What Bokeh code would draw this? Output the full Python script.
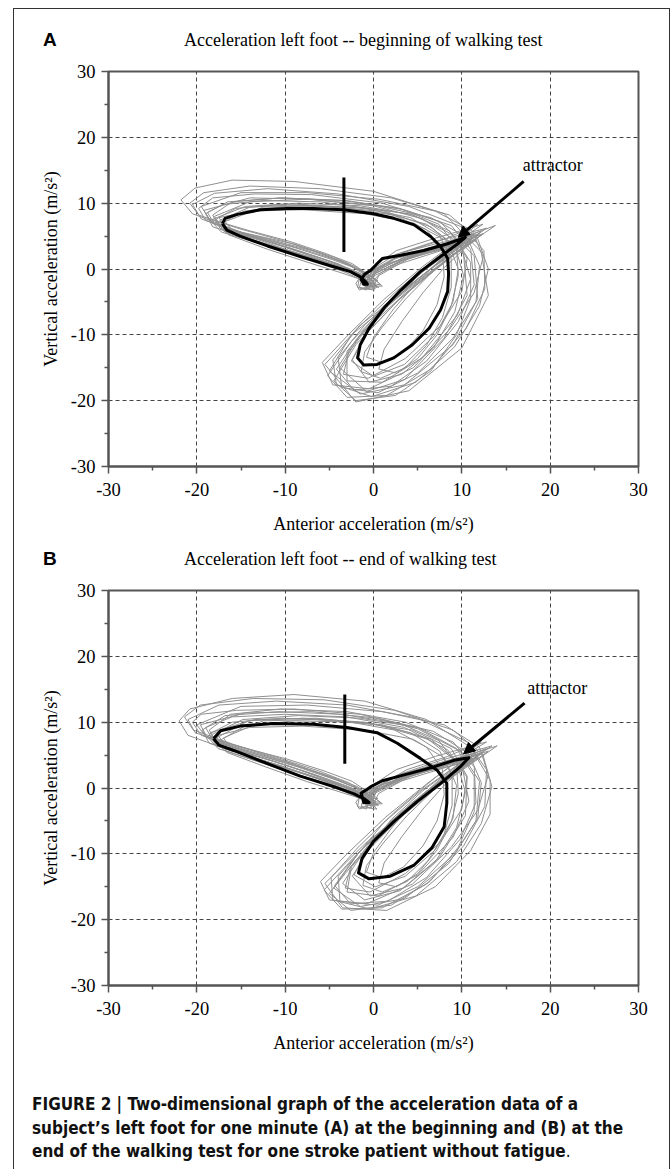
from bokeh.plotting import figure
from bokeh.layouts import column
from bokeh.models import Div, Label, Arrow, NormalHead, FixedTicker
from bokeh.embed import file_html
from bokeh.resources import INLINE

# ---------------- data ----------------
major_ticks = [-30, -20, -10, 0, 10, 20, 30]
minor_ticks = [-25, -15, -5, 5, 15, 25]
grid_ticks = [-20, -10, 0, 10, 20]
tick_labels = ["-30", "-20", "-10", "0", "10", "20", "30"]

titles = ["Acceleration left foot -- beginning of walking test",
          "Acceleration left foot -- end of walking test"]
letters = ["A", "B"]
x_title = "Anterior acceleration (m/s\u00b2)"
y_title = "Vertical acceleration (m/s\u00b2)"
annot_text = "attractor"

# mean (black) trajectory, panel A
mean_A = [(-17.1, 6.9), (-16.6, 5.9), (-15.1, 5.0), (-12.0, 3.5), (-8.3, 1.9), (-4.9, 0.5),
          (-2.6, -0.4), (-1.5, -1.2), (-0.9, -1.9), (-0.7, -2.3), (-1.1, -2.3), (-1.4, -1.6),
          (-1.0, -0.8), (-0.3, -0.2), (0.4, 0.8), (1.0, 1.6), (3.1, 2.1), (5.7, 2.8), (8.3, 3.8),
          (10.4, 4.8), (9.5, 3.8), (7.6, 1.9), (5.3, -0.4), (3.1, -3.2), (1.2, -5.9), (-0.5, -9.0),
          (-1.5, -11.5), (-1.8, -13.5), (-1.1, -14.6), (0.4, -14.5), (2.3, -13.5), (4.4, -11.5),
          (6.3, -9.0), (7.6, -6.2), (8.4, -3.4), (8.5, -0.7), (8.4, 1.6), (7.6, 3.4), (6.5, 4.9),
          (4.6, 6.7), (2.3, 7.7), (0.0, 8.4), (-3.4, 9.0), (-6.8, 9.2), (-9.8, 9.2), (-12.8, 9.0),
          (-15.4, 8.3), (-16.8, 7.7), (-17.1, 6.9)]

# mean (black) trajectory, panel B
mean_B = [(-18.1, 7.5), (-17.5, 6.5), (-15.8, 5.7), (-12.0, 3.7), (-8.3, 1.8), (-4.5, 0.2),
          (-2.2, -0.9), (-1.1, -1.6), (-0.5, -2.2), (-1.1, -2.2), (-1.4, -0.8), (-0.3, 0.2),
          (1.0, 1.1), (3.8, 2.1), (6.8, 3.2), (9.1, 4.2), (10.8, 4.6), (9.8, 3.2), (7.6, 0.7),
          (4.9, -2.1), (2.3, -5.1), (0.0, -8.1), (-1.3, -10.7), (-1.7, -12.9), (-0.5, -13.8),
          (1.9, -13.4), (4.6, -11.7), (6.6, -9.1), (8.0, -5.9), (8.3, -2.3), (8.3, 0.7),
          (7.2, 2.7), (5.3, 4.5), (2.7, 6.8), (0.4, 8.4), (-3.0, 9.2), (-6.8, 9.7), (-11.3, 9.8),
          (-15.1, 9.4), (-17.3, 8.7), (-18.1, 7.5)]

# individual gait cycles (grey), panel A
gray_A = [
    [(-21.8, 10.5), (-20.5, 8.4), (-15, 5.6), (-9, 3.8), (-4.5, 1.8), (-1.8, 0.2), (-0.2, -1.6), (0.4, -2.8),
     (-0.6, -2.6), (0.8, -0.6), (4, 1.8), (8.5, 4), (13.8, 6.6), (10.5, 3.6), (5, -1.8), (-1.5, -8.5),
     (-5.5, -14.5), (-2, -20.2), (4, -18.5), (10, -12), (13, -4), (12.2, 2.6), (8, 8.4), (0, 11.8),
     (-9, 13.3), (-16, 13.5), (-20.2, 12.3), (-21.8, 10.5)],
    [(-19.8, 9.2), (-19, 7.4), (-14, 5.0), (-8.5, 2.8), (-4, 0.8), (-1.5, -0.8), (-0.4, -2.2), (0.1, -3.2),
     (-1, -3.0), (-0.6, -1.2), (3, 1.2), (7.5, 3.2), (12.5, 5.4), (9.5, 2.6), (4, -3), (-2.5, -10),
     (-5, -15.5), (-1.5, -19), (3.5, -17.6), (9, -11.5), (11.8, -4.5), (11.4, 2), (7.5, 7.2), (1, 10),
     (-7, 11.3), (-13.5, 11.4), (-18.2, 10.8), (-19.8, 9.2)],
    [(-18.8, 8.6), (-18, 6.8), (-13, 4.6), (-8, 2.4), (-4, 0.4), (-1.8, -1.0), (-0.8, -2.0), (-0.4, -3.0),
     (-1.6, -2.8), (-1.2, -1.0), (2, 1.4), (6.5, 3.0), (11.2, 4.6), (8.5, 1.6), (3.5, -3.8), (-1.5, -10),
     (-3.8, -15), (-0.8, -18.6), (3.5, -16.8), (8, -10.5), (10.6, -4), (10.2, 2.2), (6.5, 6.4), (1, 8.9),
     (-6, 10.2), (-12.5, 10.4), (-17, 9.8), (-18.8, 8.6)],
    [(-18, 8.0), (-17.4, 6.2), (-12.5, 4.2), (-7.5, 1.8), (-3.5, 0), (-1.4, -1.4), (-0.2, -2.4), (0.6, -2.8),
     (-0.5, -2.0), (0.4, -0.2), (3.5, 1.8), (8, 3.6), (12, 5.4), (9, 2.8), (5, -1.5), (0.5, -7),
     (-3, -12.5), (-3, -17), (1, -17.2), (5.5, -13.5), (9.5, -7), (11, -1.5), (9.8, 3.8), (5.6, 7.6),
     (0, 9.6), (-7.5, 10.6), (-14, 10.2), (-18, 8.0)],
    [(-17.5, 7.8), (-16.5, 6.0), (-12, 4.6), (-7, 2.8), (-3.2, 1.0), (-1.0, -0.6), (0.2, -1.6), (0.8, -2.4),
     (-0.2, -2.2), (0.2, -0.6), (3, 2.4), (7, 3.8), (10.5, 4.8), (8.6, 2.8), (5.5, -0.5), (2, -5),
     (-1, -10), (-2.5, -14), (0, -16.3), (3.5, -14.5), (7, -10), (9, -5), (9.6, 0), (8.4, 4.2), (4.5, 7.0),
     (-1, 8.4), (-8, 9.0), (-14, 8.8), (-17.5, 7.8)],
    [(-20.5, 9.8), (-19.5, 7.6), (-14.5, 5.2), (-9.5, 3.2), (-5, 1.2), (-2, -0.4), (-0.6, -1.8), (-0.2, -2.6),
     (-1.3, -2.4), (-0.8, -0.6), (2.5, 2.2), (7, 4.2), (12.8, 6.2), (10, 3.5), (6, -0.5), (1.5, -5.5),
     (-2.5, -11), (-5.2, -16.2), (-3, -19.5), (1.5, -19.2), (6.5, -15.2), (10.5, -9), (12.6, -3),
     (12.5, 2.8), (10, 6.4), (4, 9.5), (-4, 11.4), (-12, 12.2), (-18, 11.5), (-20.5, 9.8)],
    [(-19.2, 8.9), (-18.3, 7.0), (-13.5, 5.0), (-8, 3.0), (-3.8, 1.2), (-1.2, -0.4), (0.3, -1.8), (1, -2.6),
     (0, -2.6), (0.6, -1), (4, 1.6), (8.5, 3.8), (12.2, 5.8), (10.8, 3.8), (7, 0.5), (3, -3.5), (-1, -8.5),
     (-4, -13.5), (-3.6, -18), (0.5, -18.8), (5, -15.8), (9, -10.5), (11.6, -5), (12, 0.5), (10.6, 4.8),
     (6.5, 7.8), (0.5, 9.6), (-7, 10.6), (-14, 10.8), (-19.2, 8.9)],
    [(-18.5, 7.4), (-17.2, 5.6), (-12.2, 3.6), (-7, 1.4), (-3, -0.6), (-1.2, -1.8), (-0.8, -2.8), (-1.6, -3.2),
     (-2, -2.2), (-1.2, -0.6), (2, 1.0), (6, 2.6), (11, 4.2), (8, 1.0), (3, -4.5), (-2, -11.5), (-4.5, -17),
     (-2, -20), (2.5, -19.2), (6.5, -15.5), (9.4, -10), (11, -4.5), (11, 1), (9, 5.2), (4.5, 8.2),
     (-1.5, 9.6), (-8.5, 10.0), (-14.5, 9.5), (-18.5, 7.4)],
    [(-16.8, 7.2), (-15.8, 5.6), (-11, 3.8), (-6, 1.6), (-2.6, 0), (-0.8, -1.2), (0, -2.0), (0.2, -2.6),
     (-0.8, -2.4), (-0.4, -0.8), (3.2, 1.6), (7.5, 3.4), (11.6, 4.4), (9.2, 2.2), (6.2, -1.0), (2.6, -5),
     (-0.6, -9.5), (-2.4, -13.8), (-0.5, -17.2), (3.2, -16), (6.8, -12), (9.2, -6.5), (10.2, -1),
     (9.2, 3.6), (6, 6.8), (0.5, 8.8), (-6.5, 9.6), (-12.5, 9.4), (-16.8, 7.2)],
    [(-19.5, 9.5), (-18.6, 7.6), (-14, 5.8), (-9.5, 4.2), (-5.5, 2.4), (-2.4, 0.8), (-0.4, -1.0), (0.5, -1.8),
     (-0.4, -1.8), (0.2, -0.2), (3.6, 2.6), (8.2, 4.6), (11.8, 6.8), (9.6, 4.4), (5.6, 0.4), (1.2, -4.6),
     (-3, -10.2), (-5.8, -14.2), (-4.6, -17.6), (-0.5, -18.2), (4.5, -15), (8.6, -9.2), (11.4, -3.6),
     (12.4, 1.8), (11.2, 5.8), (7, 8.8), (0.6, 10.6), (-7.5, 11.6), (-15, 11.6), (-19.5, 9.5)],
    [(-18.2, 8.2), (-17.6, 6.6), (-13.2, 4.8), (-8.8, 3.2), (-4.6, 1.4), (-1.8, 0), (-0.4, -1.4), (0.2, -2.2),
     (-0.9, -2.2), (-0.3, -0.6), (2.8, 1.8), (7.2, 3.6), (11.4, 5.2), (9, 3), (5.2, -0.8), (1, -5.8),
     (-2, -10.8), (-4.2, -15.2), (-2.2, -18.4), (2, -17.8), (6, -14), (9.6, -8), (11.4, -2.4), (11, 3),
     (8.8, 6.6), (3.5, 9), (-3, 10.4), (-10.5, 10.8), (-16, 10.2), (-18.2, 8.2)],
    [(-20.8, 10), (-19.8, 8.2), (-15.4, 6.2), (-10.5, 4.4), (-6, 2.4), (-2.8, 0.6), (-0.8, -1.0), (0, -2),
     (-1, -2.0), (-0.6, -0.2), (2.6, 2.8), (6.8, 4.6), (12.4, 6.8), (10.2, 4.8), (6.8, 1.4), (2.4, -3.6),
     (-1.8, -9), (-4.6, -13.8), (-4.2, -17.6), (-0.2, -19.4), (4.8, -17.2), (9.2, -11.8), (12, -5.6),
     (13, 0), (11.8, 4.6), (8.6, 8.2), (2, 10.8), (-6, 12.2), (-14, 12.6), (-19.2, 11.6), (-20.8, 10)],
    [(-17.2, 7.0), (-16.4, 5.2), (-12, 3.0), (-7.4, 1.0), (-3.6, -0.6), (-1.4, -1.6), (-0.6, -2.4),
     (-0.8, -3.2), (-1.8, -2.8), (-1.6, -1.4), (1.2, 0.6), (5.4, 2.2), (10, 3.6), (7.6, 1.2), (4, -2.6),
     (0, -7.8), (-2.8, -12.6), (-3.4, -16), (-0.6, -16.6), (3.6, -13.6), (7.6, -8.6), (10, -3.4),
     (10.6, 1.6), (8.6, 5.8), (4, 8.4), (-2, 9.4), (-9, 9.6), (-14.6, 8.8), (-17.2, 7.0)],
    [(-17.8, 7.6), (-17, 5.8), (-12.8, 4.0), (-8.2, 2.2), (-4.2, 0.6), (-1.6, -0.6), (-0.2, -1.8), (0.4, -2.6),
     (-0.6, -2.4), (0, -0.8), (3.4, 1.4), (7.8, 3.2), (11.6, 5.0), (9.8, 3.6), (7.4, 1.2), (4.8, -2.2),
     (2.2, -6.2), (0, -10.4), (-0.8, -13.4), (1, -14.2), (3.4, -12.6), (5.6, -9.4), (7.2, -5.4), (8, -1.2),
     (7.8, 2.8), (6, 6), (2.2, 8.2), (-3.6, 9.4), (-10.4, 9.8), (-15.6, 9.2), (-17.8, 7.6)],
    [(-19, 8.4), (-18.2, 6.4), (-13.6, 4.4), (-9, 2.6), (-4.8, 0.8), (-2, -0.6), (-0.6, -1.8), (0, -2.8),
     (-1, -2.6), (-0.4, -1), (3.2, 1.2), (7.6, 3), (12.2, 5.2), (10.4, 3.2), (8, 0.2), (5.6, -3.6),
     (3.2, -8), (1.2, -12.2), (0.6, -15.2), (2.6, -15.8), (5, -13.6), (7.2, -10), (8.8, -5.6), (9.6, -1),
     (9.4, 3.4), (7.4, 6.8), (3, 9.2), (-3.5, 10.4), (-10.5, 10.8), (-16.5, 10.2), (-19, 8.4)],
    [(-17.4, 7.4), (-16.8, 5.6), (-12.4, 3.8), (-7.8, 1.8), (-3.8, 0.2), (-1.4, -1.0), (-0.4, -2.0), (0.2, -3.0),
     (-0.8, -2.8), (-0.2, -1.2), (3, 0.8), (7.2, 2.6), (11, 4.2), (9, 2.2), (6.4, -0.8), (3.6, -4.6),
     (1, -8.8), (-1, -12.6), (-1.4, -15.6), (0.8, -16.6), (3.6, -15), (6, -11.6), (7.8, -7.4), (8.8, -2.8),
     (8.8, 1.6), (7.4, 5.2), (4.2, 7.8), (-1, 9.2), (-8, 9.8), (-14, 9.4), (-17.4, 7.4)],
]

# individual gait cycles (grey), panel B
gray_B = [
    [(-22, 10.2), (-21, 8.0), (-16, 5.6), (-10.5, 3.4), (-5.5, 1.0), (-2.2, -0.8), (-0.4, -2.2), (0.4, -3.2),
     (-0.8, -3.0), (-0.4, -1.0), (3, 1.4), (8, 3.8), (14, 6.4), (11, 3.6), (5.5, -1.5), (-1, -8.5),
     (-5.5, -14.5), (-3.5, -18.2), (1.5, -18.6), (7, -15), (11, -9.5), (13.2, -4), (13.2, 1.2), (11, 6.2),
     (6, 10.4), (-1, 13.2), (-9, 14.2), (-16, 13.6), (-20.8, 12), (-22, 10.2)],
    [(-20.5, 10.0), (-19.5, 8.0), (-14.5, 5.8), (-9, 3.6), (-4.5, 1.4), (-1.6, -0.2), (-0.2, -1.6), (0.5, -2.6),
     (-0.6, -2.6), (-0.2, -0.8), (3.4, 1.6), (8, 3.6), (13, 5.6), (10, 2.8), (4.5, -2.5), (-1.5, -9.5),
     (-4.5, -15.2), (-1.5, -18), (3.5, -16.8), (8.5, -11.5), (11.6, -5), (12, 1), (9.8, 5.6), (5, 9),
     (-1.5, 11.2), (-9, 12), (-15.5, 11.8), (-19.5, 11.2), (-20.5, 10.0)],
    [(-19, 9.2), (-18.2, 7.2), (-13.5, 5.0), (-8.5, 2.8), (-4, 0.6), (-1.6, -0.8), (-0.6, -2.0), (-0.2, -3.0),
     (-1.4, -2.8), (-1, -1), (2.5, 1.2), (7, 3.2), (11.8, 5.0), (9, 2.2), (4, -3.2), (-1, -9.5), (-3.5, -14.5),
     (-1, -17), (3, -15.6), (7.5, -10.5), (10.4, -4.2), (10.6, 1.6), (8.4, 5.8), (3.5, 9.2), (-3, 10.8),
     (-10, 11.2), (-16, 10.8), (-19, 9.2)],
    [(-18.5, 8.4), (-17.6, 6.6), (-13, 4.4), (-7.5, 2.0), (-3.5, 0.2), (-1.2, -1.2), (-0.2, -2.2), (0.6, -2.6),
     (-0.4, -2.2), (0.4, -0.4), (4, 1.8), (8.5, 3.8), (12.4, 5.4), (9.5, 3), (5.5, -1), (1, -6.5), (-2.5, -12),
     (-3, -15.8), (0.5, -16.4), (5, -13.2), (9, -7.5), (10.8, -2), (10, 3.5), (6.5, 7.4), (1, 9.6),
     (-6.5, 10.6), (-13.5, 10.4), (-18.5, 8.4)],
    [(-17.6, 8.0), (-16.6, 6.2), (-12, 4.4), (-7, 2.2), (-3.2, 0.4), (-1, -0.8), (0.2, -1.6), (0.8, -2.2),
     (-0.2, -2.0), (0.4, -0.4), (3.6, 2.2), (7.6, 3.8), (11, 4.8), (8.8, 2.8), (5.6, -0.4), (2, -4.8),
     (-0.8, -9.5), (-2.2, -13.2), (0.2, -15), (3.6, -13.4), (7, -9.4), (9, -4.6), (9.4, 0.4), (8, 4.6),
     (4.5, 7.4), (-1, 8.8), (-8, 9.4), (-14, 9.2), (-17.6, 8.0)],
    [(-21, 10.4), (-20.2, 8.4), (-15, 6.2), (-9.8, 4.0), (-5, 1.8), (-2, 0), (-0.6, -1.4), (-0.2, -2.4),
     (-1.3, -2.4), (-0.8, -0.6), (2.8, 2.0), (7.6, 4.2), (13.4, 6.4), (10.6, 3.8), (6.4, -0.2), (2, -5),
     (-2.2, -10.5), (-5.6, -15.5), (-3.6, -18.4), (1, -18.2), (6, -14.6), (10.2, -8.8), (12.6, -2.8),
     (12.8, 2.8), (10.6, 7.0), (5, 10.6), (-3, 12.6), (-11, 13.2), (-17.5, 12.6), (-21, 10.4)],
    [(-19.6, 9.6), (-18.8, 7.6), (-14, 5.4), (-8.6, 3.2), (-4.2, 1.2), (-1.4, -0.2), (0.2, -1.6), (1, -2.4),
     (0, -2.4), (0.6, -0.8), (4.2, 1.8), (8.8, 4.0), (12.8, 6.0), (11, 4), (7.4, 0.6), (3.2, -3.6),
     (-0.8, -8.6), (-4, -13.4), (-3.8, -17.2), (0.5, -17.8), (5, -15), (9.2, -10), (11.8, -4.6), (12.2, 0.8),
     (10.8, 5.2), (6.8, 8.6), (0.5, 10.6), (-7, 11.6), (-14.5, 11.4), (-19.6, 9.6)],
    [(-18.8, 7.8), (-17.6, 6.0), (-12.6, 3.8), (-7.4, 1.4), (-3.2, -0.6), (-1.2, -1.8), (-0.8, -2.8),
     (-1.6, -3.2), (-2, -2.2), (-1.2, -0.6), (2, 1.0), (6.2, 2.8), (11.6, 4.6), (8.4, 1.4), (3.2, -4.2),
     (-2, -11), (-5, -16), (-2.6, -18.6), (2, -17.8), (6.4, -14.2), (9.6, -9), (11.4, -3.6), (11.4, 1.8),
     (9.4, 6), (5, 9.2), (-1.5, 10.6), (-8.5, 11), (-14.8, 10.4), (-18.8, 7.8)],
    [(-17, 7.6), (-16, 5.8), (-11.2, 4), (-6.2, 1.8), (-2.6, 0), (-0.8, -1.2), (0, -2.0), (0.2, -2.6),
     (-0.8, -2.4), (-0.4, -0.8), (3.2, 1.6), (7.6, 3.4), (11.8, 4.6), (9.4, 2.4), (6.4, -0.8), (2.8, -4.8),
     (-0.4, -9.2), (-2.4, -13.4), (-0.4, -16.4), (3.4, -15.2), (7, -11.2), (9.4, -6), (10.4, -0.6),
     (9.4, 4), (6.2, 7.4), (0.5, 9.6), (-6.5, 10.4), (-12.5, 10.2), (-17, 7.6)],
    [(-20, 9.6), (-19, 7.8), (-14.4, 6.0), (-9.8, 4.4), (-5.6, 2.6), (-2.4, 1.0), (-0.4, -0.8), (0.5, -1.6),
     (-0.4, -1.6), (0.2, 0), (3.8, 2.8), (8.4, 4.8), (12.2, 7.0), (10, 4.6), (6, 0.6), (1.4, -4.4),
     (-3, -10), (-6, -14.2), (-5, -17), (-0.8, -17.6), (4.4, -14.6), (8.8, -9), (11.8, -3.4), (13, 2),
     (12, 6.2), (8, 9.6), (1, 11.6), (-7.5, 12.6), (-15, 12.4), (-20, 9.6)],
    [(-18.6, 8.8), (-17.8, 7.0), (-13.4, 5.2), (-8.8, 3.4), (-4.6, 1.6), (-1.8, 0.2), (-0.4, -1.2), (0.2, -2.0),
     (-0.9, -2.0), (-0.3, -0.4), (3, 2.0), (7.4, 3.8), (11.6, 5.4), (9.2, 3.2), (5.4, -0.4), (1.2, -5.2),
     (-2, -10.4), (-4.4, -14.8), (-2.6, -17.6), (1.6, -17.2), (6, -13.6), (9.8, -7.8), (11.6, -2.2),
     (11.4, 3.2), (9, 7), (3.6, 10), (-3, 11.6), (-10.5, 12), (-16.2, 11.2), (-18.6, 8.8)],
    [(-21.4, 10.8), (-20.4, 8.8), (-15.8, 6.6), (-10.8, 4.6), (-6.2, 2.6), (-2.8, 0.8), (-0.8, -0.8), (0, -1.8),
     (-1, -1.8), (-0.6, 0), (2.6, 2.8), (7, 4.8), (12.8, 7.0), (10.4, 5), (7, 1.6), (2.6, -3.4), (-1.6, -8.8),
     (-4.8, -13.6), (-4.6, -17), (-0.4, -18.4), (4.8, -16.4), (9.4, -11.2), (12.2, -5.4), (13.4, 0.2),
     (12.4, 5), (9, 8.8), (2.4, 11.8), (-5.6, 13.4), (-13.6, 13.6), (-19.6, 12.6), (-21.4, 10.8)],
    [(-17.4, 7.2), (-16.6, 5.4), (-12.2, 3.2), (-7.6, 1.0), (-3.8, -0.6), (-1.4, -1.6), (-0.6, -2.4),
     (-0.8, -3.2), (-1.8, -2.8), (-1.6, -1.4), (1.2, 0.6), (5.6, 2.4), (10.2, 3.8), (7.8, 1.4), (4.2, -2.4),
     (0.2, -7.4), (-2.6, -12), (-3.2, -15.2), (-0.4, -15.8), (3.6, -13), (7.6, -8.2), (10, -3.2),
     (10.6, 1.8), (8.8, 6), (4.4, 8.8), (-1.8, 10), (-9, 10.2), (-14.6, 9.4), (-17.4, 7.2)],
    [(-18.6, 8.2), (-17.8, 6.4), (-13.4, 4.4), (-8.6, 2.4), (-4.4, 0.6), (-1.8, -0.6), (-0.4, -1.6), (0.4, -2.4),
     (-0.6, -2.2), (0, -0.6), (3.4, 1.4), (8, 3.4), (11.8, 5.2), (9.8, 3.6), (7.4, 1.2), (4.8, -2),
     (2.2, -5.8), (0, -9.8), (-0.8, -12.8), (1, -13.6), (3.4, -12), (5.6, -8.8), (7.2, -5), (8, -1),
     (7.8, 2.8), (6, 6.2), (2.4, 8.8), (-3.4, 10.2), (-10.4, 10.6), (-16, 10), (-18.6, 8.2)],
    [(-19.4, 8.8), (-18.6, 6.8), (-14, 4.8), (-9.2, 2.8), (-5, 1.0), (-2, -0.4), (-0.6, -1.6), (0, -2.6),
     (-1, -2.4), (-0.4, -0.8), (3.2, 1.4), (7.8, 3.2), (12.4, 5.4), (10.4, 3.4), (8, 0.4), (5.6, -3.2),
     (3.2, -7.4), (1.2, -11.4), (0.6, -14.4), (2.6, -15), (5, -13), (7.2, -9.4), (8.8, -5.2), (9.6, -0.8),
     (9.4, 3.6), (7.4, 7.2), (3, 9.8), (-3.6, 11.2), (-10.8, 11.6), (-16.8, 11), (-19.4, 8.8)],
    [(-17.8, 7.6), (-17, 5.8), (-12.6, 3.8), (-8, 1.8), (-4, 0.2), (-1.4, -1.0), (-0.4, -2.0), (0.2, -2.8),
     (-0.8, -2.6), (-0.2, -1.0), (3, 1.0), (7.4, 2.8), (11.2, 4.4), (9.2, 2.4), (6.6, -0.6), (3.8, -4.2),
     (1.2, -8.2), (-0.8, -11.8), (-1.2, -14.8), (1, -15.8), (3.8, -14.2), (6.2, -11), (8, -7), (8.9, -2.6),
     (8.9, 1.8), (7.5, 5.6), (4.2, 8.4), (-1, 10), (-8, 10.6), (-14.2, 10.2), (-17.8, 7.6)],
]

# vertical marker bar: (x, y_bottom, y_top)
bar_A = (-3.35, 2.6, 13.9)
bar_B = (-3.25, 3.7, 14.2)
# arrow (x_start, y_start, x_end, y_end) and label anchor (x, y)
arrow_A = (17.0, 13.3, 9.6, 4.8)
arrow_B = (17.1, 12.9, 10.2, 5.2)
label_A = (16.9, 15.8)
label_B = (17.4, 15.2)

SERIF = "Liberation Serif"
AXC = "#555555"
W = 655


def make_panel(mean, grays, bar, arrow, lab, height, top, bottom):
    p = figure(width=W, height=height, x_range=(-30, 30), y_range=(-30, 30),
               output_backend="svg", toolbar_location=None, margin=0,
               min_border_left=94, min_border_right=31, min_border_top=top,
               min_border_bottom=bottom)
    p.background_fill_color = "white"
    p.border_fill_color = "white"
    p.outline_line_color = AXC
    p.outline_line_width = 2

    for ax in (p.xaxis[0], p.yaxis[0]):
        ax.ticker = FixedTicker(ticks=major_ticks, minor_ticks=minor_ticks)
        ax.major_label_overrides = {t: s for t, s in zip(major_ticks, tick_labels)}
        ax.major_label_text_font = SERIF
        ax.major_label_text_font_size = "18.5px"
        ax.major_label_text_color = "black"
        ax.axis_label_text_font = SERIF
        ax.axis_label_text_font_size = "18px"
        ax.axis_label_text_font_style = "normal"
        ax.axis_label_text_color = "black"
        ax.axis_line_color = AXC
        ax.axis_line_width = 2
        ax.major_tick_line_color = AXC
        ax.major_tick_line_width = 1.5
        ax.major_tick_in = 0
        ax.major_tick_out = 7
        ax.minor_tick_line_color = AXC
        ax.minor_tick_line_width = 1.5
        ax.minor_tick_in = 0
        ax.minor_tick_out = 4
    p.xaxis.axis_label = x_title
    p.yaxis.axis_label = y_title
    p.xaxis.major_label_standoff = 9
    p.xaxis.axis_label_standoff = 15
    p.yaxis.major_label_standoff = 6
    p.yaxis.axis_label_standoff = 7

    for g in (p.xgrid[0], p.ygrid[0]):
        g.ticker = FixedTicker(ticks=grid_ticks)
        g.grid_line_color = "#444444"
        g.grid_line_dash = "4 3"
        g.grid_line_width = 1

    gx = [[pt[0] for pt in tr] for tr in grays]
    gy = [[pt[1] for pt in tr] for tr in grays]
    p.multi_line(xs=gx, ys=gy, line_color="#909090", line_width=1, line_join="round")
    p.line([pt[0] for pt in mean], [pt[1] for pt in mean], line_color="black",
           line_width=3, line_join="round")
    p.segment(x0=[bar[0]], y0=[bar[1]], x1=[bar[0]], y1=[bar[2]], line_color="black", line_width=3)

    p.add_layout(Arrow(x_start=arrow[0], y_start=arrow[1], x_end=arrow[2], y_end=arrow[3],
                       line_color="black", line_width=3,
                       end=NormalHead(size=11, fill_color="black", line_color="black")))
    p.add_layout(Label(x=lab[0], y=lab[1], text=annot_text, text_font=SERIF,
                       text_font_size="18px", text_baseline="middle", text_align="left",
                       text_color="black"))
    return p


def header(idx, height, top):
    html = (
        f'<div style="position:relative;width:{W}px;height:{height}px;">'
        f'<span style="position:absolute;left:29px;top:{top}px;line-height:22px;'
        f'font-family:\'Liberation Sans\',Arial,sans-serif;font-weight:bold;font-size:19px;color:#000;">'
        f'{letters[idx]}</span>'
        f'<span style="position:absolute;left:170px;top:{top}px;line-height:22px;white-space:nowrap;'
        f'font-family:\'Liberation Serif\',serif;font-size:18px;color:#000;">{titles[idx]}</span>'
        f'</div>'
    )
    return Div(text=html, width=W, height=height, margin=0)


hA = header(0, 50, 20)
pA = make_panel(mean_A, gray_A, bar_A, arrow_A, label_A, 481, 12, 74)
hB = header(1, 38, 8)
pB = make_panel(mean_B, gray_B, bar_B, arrow_B, label_B, 497, 12, 90)

caption_html = (
    f'<div style="width:{W}px;font-family:\'Liberation Sans Narrow\',\'DejaVu Sans Condensed\',Roboto,sans-serif;'
    'font-stretch:condensed;font-size:17px;line-height:23.5px;color:#111;padding:18px 0 0 18px;'
    'white-space:nowrap;">'
    '<b>FIGURE 2 | Two-dimensional graph of the acceleration data of a<br>'
    'subject\u2019s left foot for one minute (A) at the beginning and (B) at the<br>'
    'end of the walking test for one stroke patient without fatigue</b>.</div>'
)
cap = Div(text=caption_html, width=W, height=94, margin=0)

layout = column(hA, pA, hB, pB, cap, spacing=0,
                styles={"border-left": "1px solid #333", "border-top": "1px solid #333",
                        "border-right": "1px solid #333", "margin-left": "13px",
                        "margin-top": "8px"})

open("out.html", "w").write(file_html(layout, INLINE))
